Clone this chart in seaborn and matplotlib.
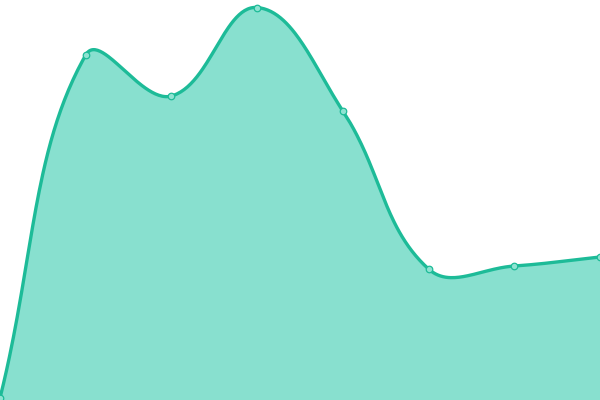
import matplotlib
matplotlib.use("Agg")
import matplotlib.pyplot as plt
import numpy as np
import pandas as pd
import seaborn as sns

# values (0 = bottom of chart, 400 = top)
labels = ["A", "B", "C", "D", "E", "F", "G", "H"]
values = [2, 345, 304, 392.5, 289, 131, 134, 143]

line_color = "#1dbb98"
fill_color = "#88e0cf"
point_fill = "#8fe3d2"


def spline(xs, ys, tension=0.4):
    # chart.js style cubic bezier through the points
    pts = np.column_stack([xs, ys]).astype(float)
    n = len(pts)
    cps = []
    for i in range(n):
        prev = pts[max(i - 1, 0)]
        cur = pts[i]
        nxt = pts[min(i + 1, n - 1)]
        d01 = np.hypot(*(cur - prev))
        d12 = np.hypot(*(nxt - cur))
        tot = d01 + d12
        s01 = d01 / tot if tot else 0
        s12 = d12 / tot if tot else 0
        cps.append((cur - tension * s01 * (nxt - prev),
                    cur + tension * s12 * (nxt - prev)))
    out = []
    t = np.linspace(0, 1, 60)[:, None]
    for i in range(n - 1):
        p0, p3 = pts[i], pts[i + 1]
        p1, p2 = cps[i][1], cps[i + 1][0]
        seg = ((1 - t) ** 3) * p0 + 3 * ((1 - t) ** 2) * t * p1 \
            + 3 * (1 - t) * t ** 2 * p2 + t ** 3 * p3
        out.append(seg if i == 0 else seg[1:])
    return np.vstack(out)


sns.set_style("white")
fig = plt.figure(figsize=(6, 4), dpi=100)
ax = fig.add_axes([0, 0, 1, 1])

x = np.arange(len(labels)) * 600 / (len(labels) - 1)
curve = spline(x, values)
df = pd.DataFrame({"x": curve[:, 0], "y": curve[:, 1]})

ax.fill_between(df["x"], df["y"], 0, color=fill_color, lw=0, zorder=1)
sns.lineplot(data=df, x="x", y="y", sort=False, color=line_color,
             linewidth=2.4, ax=ax, zorder=2)
pts = pd.DataFrame({"x": x, "y": values})
sns.scatterplot(data=pts, x="x", y="y", s=22, color=point_fill,
                edgecolor=line_color, linewidth=0.9, ax=ax, zorder=3)

ax.set_xlim(0, 600)
ax.set_ylim(0, 400)
ax.axis("off")
fig.savefig("out.png", dpi=100)
